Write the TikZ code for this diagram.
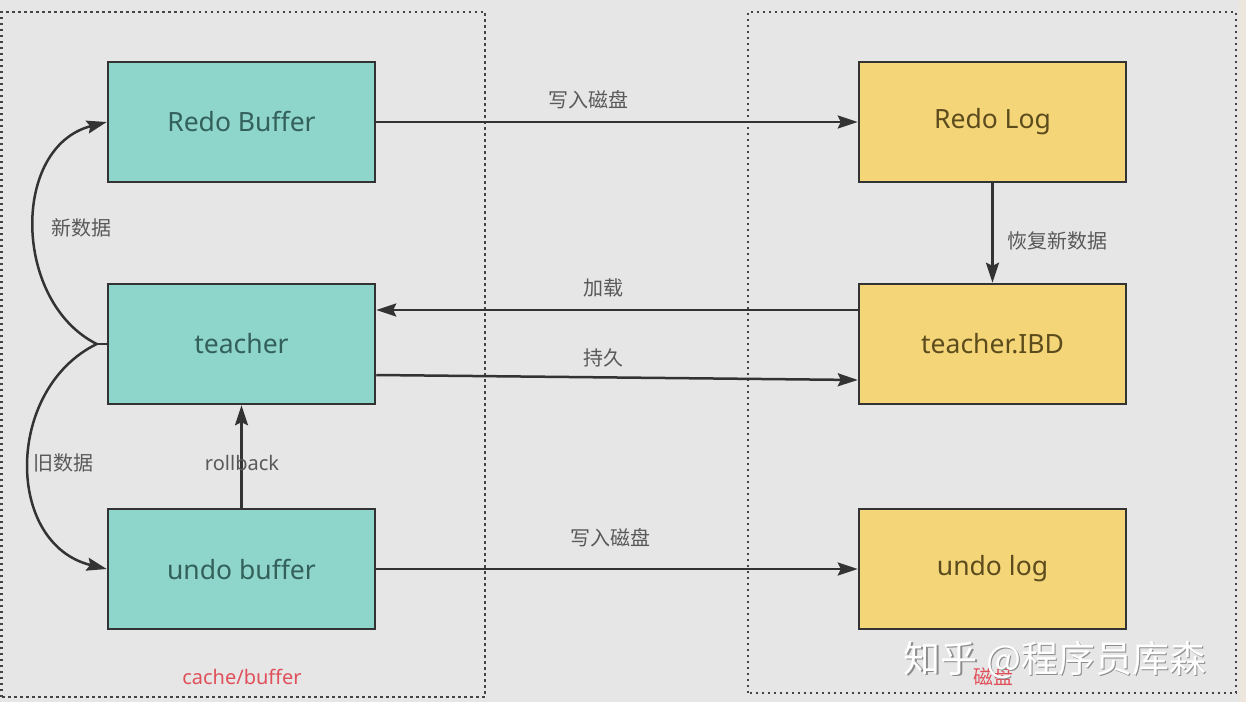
\documentclass[tikz,border=0pt]{standalone}
\usepackage{fontspec}
\setmainfont{Noto Sans}
\newfontfamily\cjk{Noto Sans CJK SC}
\usetikzlibrary{arrows.meta}
\definecolor{bgc}{HTML}{E6E6E6}
\definecolor{stripc}{HTML}{ECE6DC}
\definecolor{linec}{HTML}{333333}
\definecolor{dotc}{HTML}{444444}
\definecolor{tealf}{HTML}{8ED5CB}
\definecolor{tealt}{HTML}{33605A}
\definecolor{goldf}{HTML}{F4D679}
\definecolor{goldt}{HTML}{5C4B1C}
\definecolor{lblc}{HTML}{595959}
\definecolor{redc}{HTML}{E0505A}
\definecolor{shadowc}{HTML}{8C8C8C}
\begin{document}
\begin{tikzpicture}[x=1pt,y=1pt,
  box/.style={draw=linec, line width=2.5pt, minimum width=267pt, minimum height=120pt, inner sep=0pt, font=\fontsize{26.5}{30}\selectfont},
  tealbox/.style={box, fill=tealf, text=tealt},
  goldbox/.style={box, fill=goldf, text=goldt},
  conn/.style={draw=linec, line width=2.5pt},
  arr/.style={conn, -{Stealth[length=20pt,width=13pt,inset=3pt]}},
  lbl/.style={text=lblc, font=\fontsize{20}{24}\selectfont, inner sep=0pt},
  redlbl/.style={text=redc, font=\fontsize{20}{24}\selectfont, inner sep=0pt},
  area/.style={draw=dotc, line width=2.2pt, dash pattern=on 2.2pt off 3.8pt},
  wmark/.style={font=\cjk\fontsize{37}{42}\selectfont, inner sep=0pt},
]
\useasboundingbox (0,0) rectangle (1246,702);
\fill[bgc] (0,0) rectangle (1246,702);
\fill[stripc] (1239,0) rectangle (1246,702);

% areas
\draw[area] (1.5,5) rectangle (485,690);
\draw[area] (748,9) rectangle (1236,690);

% boxes
\node[tealbox] (redobuf) at (241.5,580) {Redo Buffer};
\node[tealbox] (teacher) at (241.5,358) {teacher};
\node[tealbox] (undobuf) at (241.5,133) {undo buffer};
\node[goldbox] (redolog) at (992.5,580) {Redo Log};
\node[goldbox] (ibd) at (992.5,358) {teacher.IBD};
\node[goldbox] (undolog) at (992.5,133) {undo log};

% connectors
\draw[arr] (redobuf) -- (redolog);
\draw[arr] ([yshift=34pt]ibd.west) -- ([yshift=34pt]teacher.east);
\draw[arr] ([yshift=-31pt]teacher.east) -- ([yshift=-36pt]ibd.west);
\draw[arr] (undobuf) -- (undolog);
\draw[arr] (redolog) -- (ibd);
\draw[arr] (undobuf) -- (teacher);

\draw[conn] (teacher.west) -- ++(-10,0) coordinate (split);
\draw[arr] (split) .. controls +(-84,42) and +(-96,-25) .. (redobuf.west);
\draw[arr] (split) .. controls +(-92,-45) and +(-102,25) .. (undobuf.west);

% labels
\node[lbl] (l1) at (588,602) {\cjk 写入磁盘};
\node[lbl] (l2) at (603,414) {\cjk 加载};
\node[lbl] (l3) at (603,344) {\cjk 持久};
\node[lbl] (l4) at (610,164) {\cjk 写入磁盘};
\node[lbl] (l5) at (1057,461) {\cjk 恢复新数据};
\node[lbl] (l6) at (242,239) {rollback};
\node[lbl] (l7) at (81,474) {\cjk 新数据};
\node[lbl] (l8) at (63,239) {\cjk 旧数据};

\node[redlbl] (cachelbl) at (242,25) {cache/buffer};
\node[redlbl] (disklbl) at (993,25) {\cjk 磁盘};

% watermark
\node[wmark, text=shadowc] (wmshadow) at (1056.5,40.5) {知乎 @程序员库森};
\node[wmark, text=white] (wm) at (1055,42) {知乎 @程序员库森};
\end{tikzpicture}
\end{document}
